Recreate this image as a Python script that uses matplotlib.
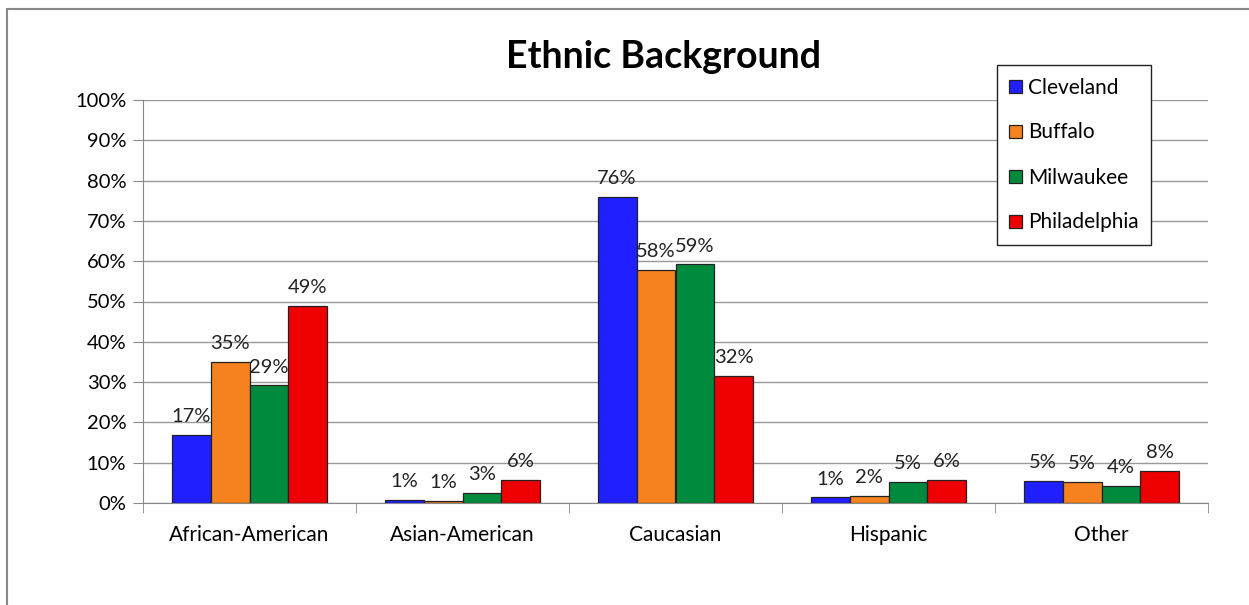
import numpy as np
import matplotlib.pyplot as plt
from matplotlib.patches import Rectangle
from matplotlib.ticker import PercentFormatter, FixedLocator

plt.rcParams['font.family'] = ['Lato', 'DejaVu Sans']

categories = ["African-American", "Asian-American", "Caucasian", "Hispanic", "Other"]
cities = ["Cleveland", "Buffalo", "Milwaukee", "Philadelphia"]
cleveland = [16.9, 0.8, 75.9, 1.4, 5.5]
buffalo = [35.1, 0.6, 57.8, 1.8, 5.2]
milwaukee = [29.2, 2.5, 59.2, 5.2, 4.2]
philadelphia = [49.0, 5.7, 31.5, 5.7, 7.9]
labels = [
    ["17%", "1%", "76%", "1%", "5%"],
    ["35%", "1%", "58%", "2%", "5%"],
    ["29%", "3%", "59%", "5%", "4%"],
    ["49%", "6%", "32%", "6%", "8%"],
]

COLORS = ["#1F1FFF", "#F5821F", "#008A3E", "#EE0000"]

fig = plt.figure(figsize=(12.49, 6.05), dpi=100)
ax = fig.add_axes([143 / 1249, 1 - 503 / 605, 1065 / 1249, 403 / 605])

# outer chart frame
fig.patches.append(Rectangle((7 / 1249, -0.05), 1.1, 1 - 9 / 605 + 0.05,
                             transform=fig.transFigure, fill=False,
                             edgecolor="#888888", linewidth=1.5))

x = np.arange(len(categories))
w = 0.183
series = [cleveland, buffalo, milwaukee, philadelphia]
for i, (vals, col, name) in enumerate(zip(series, COLORS, cities)):
    bars = ax.bar(x + (i - 1.5) * w, vals, w, color=col, edgecolor="#222222",
                  linewidth=0.9, label=name, zorder=3)
    ax.bar_label(bars, labels=labels[i], padding=7, fontsize=14.5, color="#222222")

ax.set_xlim(-0.5, 4.5)
ax.set_ylim(0, 100)
ax.set_yticks(np.arange(0, 101, 10))
ax.yaxis.set_major_formatter(PercentFormatter(decimals=0))
ax.set_xticks(x)
ax.set_xticklabels(categories)
ax.xaxis.set_minor_locator(FixedLocator(np.arange(-0.5, 5, 1)))
ax.tick_params(axis="x", which="major", length=0, pad=16, labelsize=15)
ax.tick_params(axis="x", which="minor", length=7, color="#888888", direction="out")
ax.tick_params(axis="y", length=7, color="#888888", labelsize=14.5, pad=5)
ax.grid(True, axis="y", color="#999999", linewidth=1, zorder=0)
for s in ["top", "right"]:
    ax.spines[s].set_visible(False)
for s in ["left", "bottom"]:
    ax.spines[s].set_color("#888888")

fig.text(664 / 1249, 1 - 57 / 605, "Ethnic Background", ha="center", va="center",
         fontsize=27, fontweight="bold")

leg = ax.legend(loc="upper left", bbox_to_anchor=(997 / 1249, 1 - 65 / 605),
                bbox_transform=fig.transFigure, fancybox=False, framealpha=1,
                edgecolor="#222222", fontsize=15, labelspacing=1.2,
                handlelength=0.6, handleheight=0.6, handletextpad=0.3,
                borderpad=0.6, borderaxespad=0)
leg.get_frame().set_linewidth(1)

fig.savefig("out.png", dpi=100)
